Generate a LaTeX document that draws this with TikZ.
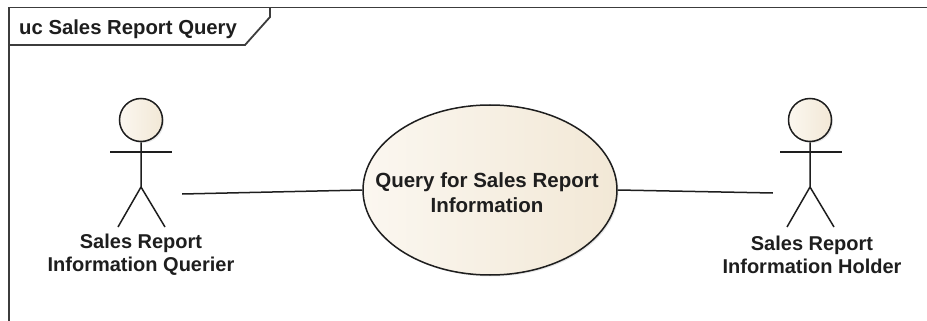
\documentclass[tikz,border=0pt]{standalone}
\usepackage{fontspec}
\setmainfont{Liberation Sans}
\usetikzlibrary{shapes.geometric,shadows}
\definecolor{ucfill}{RGB}{242,232,214}
\definecolor{uclight}{RGB}{251,247,240}
\definecolor{framecol}{RGB}{60,60,60}
\definecolor{inkcol}{RGB}{30,30,30}
\begin{document}
\begin{tikzpicture}[x=1pt,y=-1pt,
  lbl/.style={font=\bfseries\fontsize{20}{23}\selectfont, align=center, text=inkcol, inner sep=0pt},
  limb/.style={line width=1.5pt, draw=inkcol},
  softshadow/.style={drop shadow={opacity=0.2, shadow xshift=1.5pt, shadow yshift=-1.5pt}},
  headstyle/.style={circle, draw=inkcol, line width=1.5pt, left color=uclight, right color=ucfill, softshadow, minimum size=43pt, inner sep=0pt},
  actorbox/.style={rectangle, draw=none, inner sep=0pt, minimum height=130pt},
  conn/.style={line width=1.5pt, draw=inkcol},
  framestyle/.style={draw=framecol, line width=1.8pt}]
\useasboundingbox (0,0) rectangle (927,321);
% frame
\begin{scope}
\clip (0,0) rectangle (927,321);
\draw[framestyle] (9,340) -- (9,7.5) -- (940,7.5);
\end{scope}
\draw[framestyle] (9,45) -- (245,45) -- (270,17) -- (270,7.5);
\node[anchor=base west, font=\bfseries\fontsize{20.3}{24}\selectfont, text=inkcol, inner sep=0pt] (title) at (19,35) {uc Sales Report Query};

% left actor
\node[actorbox, minimum width=82pt] (actorL) at (141,194) {};
\node[headstyle] (headL) at (141,120) {};
\draw[limb] (110,152) -- (172,152);
\draw[limb] (headL.south) -- (141,187) -- (118,227);
\draw[limb] (141,187) -- (165,227);
\node[lbl] (labL) at (141,254.5) {Sales Report\\Information Querier};

% right actor
\node[actorbox, minimum width=74pt] (actorR) at (810,193) {};
\node[headstyle] (headR) at (810,120) {};
\draw[limb] (780,152) -- (842,152);
\draw[limb] (headR.south) -- (810,187) -- (787,227);
\draw[limb] (810,187) -- (834,227);
\node[lbl] (labR) at (812,254.5) {Sales Report\\Information Holder};

% use case
\node[ellipse, draw=inkcol, line width=1.5pt, left color=uclight, right color=ucfill, softshadow, minimum width=254pt, minimum height=170pt, inner sep=0pt] (uc) at (490,190) {};
\node[lbl, font=\bfseries\fontsize{20.5}{25}\selectfont] (uctext) at (487,192.5) {Query for Sales Report\\Information};

% connectors
\draw[conn] (actorL.east) -- (uc.west);
\draw[conn] (uc.east) -- (actorR.west);
\end{tikzpicture}
\end{document}
